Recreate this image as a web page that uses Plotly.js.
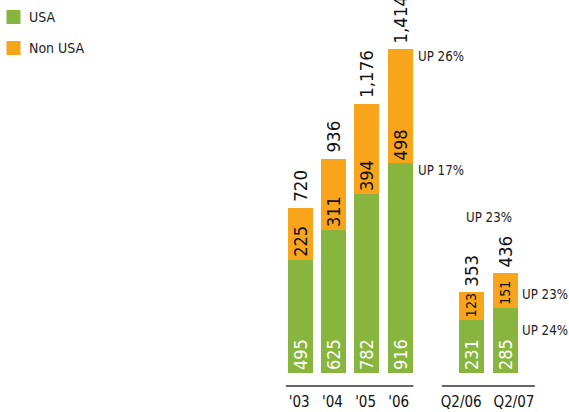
<!DOCTYPE html>
<html>
<head>
<meta charset="utf-8">
<script src="https://cdn.plot.ly/plotly-3.0.1.min.js"></script>
<style>html,body{margin:0;padding:0;background:#fff}#chart{width:569px;height:412px}</style>
</head>
<body>
<div id="chart"></div>
<script>
// ---- data ----
var annualLabels = ["'03", "'04", "'05", "'06"];
var quarterLabels = ["Q2/06", "Q2/07"];
var usaAnnual = [495, 625, 782, 916];
var nonUsaAnnual = [225, 311, 394, 498];
var totalAnnual = [720, 936, 1176, 1414];
var usaQuarter = [231, 285];
var nonUsaQuarter = [123, 151];
var totalQuarter = [353, 436];
var seriesNames = ["USA", "Non USA"];
var growthLabels = ["UP 26%", "UP 17%", "UP 23%", "UP 23%", "UP 24%"];

// ---- layout helpers ----
var FONT = "'DejaVu Sans Condensed', 'Liberation Sans Narrow', sans-serif";
var GREEN = "#88b53e", ORANGE = "#f8a51c";
var W = 569, H = 412, PLOT_H = 372.7;
var QOFF = 5.15;
var labels = annualLabels.concat(quarterLabels);
var xs = annualLabels.map(function(_, i){ return i; })
  .concat(quarterLabels.map(function(_, i){ return QOFF + i * 1.02; }));
// quarterly tick labels sit slightly outward of their bars
var tickPos = xs.map(function(x, i){
  if (i === annualLabels.length) return x - 0.31;
  if (i === annualLabels.length + 1) return x + 0.26;
  return x - 0.04;
});
var usa = usaAnnual.concat(usaQuarter);
var non = nonUsaAnnual.concat(nonUsaQuarter);
var totals = totalAnnual.concat(totalQuarter);
function fmt(n){ return n.toString().replace(/\B(?=(\d{3})+(?!\d))/g, ","); }
var innerSizes = xs.map(function(_, i){ return i < annualLabels.length ? 18 : 14; });
var BW = 0.75;

var common = {
  type: 'bar', x: xs, width: BW, textposition: 'inside', insidetextanchor: 'start',
  textangle: -90, constraintext: 'none', hoverinfo: 'skip', showlegend: false
};
var tUsa = Object.assign({}, common, {
  name: seriesNames[0], y: usa, text: usa.map(fmt),
  marker: {color: GREEN, line: {width: 0}},
  insidetextfont: {family: FONT, color: '#ffffff', size: 18}
});
var tNon = Object.assign({}, common, {
  name: seriesNames[1], y: non, text: non.map(fmt),
  marker: {color: ORANGE, line: {width: 0}},
  insidetextfont: {family: FONT, color: '#111111', size: innerSizes}
});

var annotations = totals.map(function(t, i){
  return {x: xs[i], y: t, xref: 'x', yref: 'y', text: fmt(t), textangle: -90,
    showarrow: false, xanchor: 'center', yanchor: 'bottom', yshift: 4,
    font: {family: FONT, size: 18.5, color: '#111'}};
});
var upPos = [
  {x: 3.49, y: 1385, xa: 'left'},
  {x: 3.49, y: 886, xa: 'left'},
  {x: 5.68, y: 681, xa: 'center'},
  {x: 6.62, y: 344, xa: 'left'},
  {x: 6.62, y: 187, xa: 'left'}
];
growthLabels.forEach(function(g, i){
  annotations.push({x: upPos[i].x, y: upPos[i].y, xref: 'x', yref: 'y', text: g,
    showarrow: false, xanchor: upPos[i].xa, yanchor: 'middle',
    font: {family: FONT, size: 13.2, color: '#222'}});
});

// manual legend (pixel positions converted to paper coords)
function px(x){ return x / W; }
function py(y){ return 1 - y / PLOT_H; }
var legendRows = [{y: 17, c: GREEN}, {y: 48, c: ORANGE}];
var shapes = [];
legendRows.forEach(function(r, i){
  shapes.push({type: 'rect', xref: 'paper', yref: 'paper', x0: px(6.5), x1: px(20.5),
    y0: py(r.y - 7), y1: py(r.y + 7), fillcolor: r.c, line: {width: 0}});
  annotations.push({xref: 'paper', yref: 'paper', x: px(26.5), y: py(r.y), text: seriesNames[i],
    showarrow: false, xanchor: 'left', yanchor: 'middle',
    font: {family: FONT, size: 14, color: '#222'}});
});

shapes.push(
  {type: 'line', xref: 'x', yref: 'paper', x0: -0.44, x1: 3.4, y0: py(385.7), y1: py(385.7),
   line: {color: '#333', width: 1.3}},
  {type: 'line', xref: 'x', yref: 'paper', x0: QOFF - 0.89, x1: QOFF + 1.02 + 0.89, y0: py(385.7), y1: py(385.7),
   line: {color: '#333', width: 1.3}}
);

var layout = {
  width: W, height: H,
  margin: {l: 0, r: 0, t: 0, b: H - PLOT_H},
  paper_bgcolor: '#fff', plot_bgcolor: '#fff',
  barmode: 'stack', showlegend: false,
  xaxis: {range: [-300.5/33.2, (W-300.5)/33.2], tickmode: 'array', tickvals: tickPos, ticktext: labels,
    tickangle: 0, showgrid: false, zeroline: false, showline: false, ticks: '', ticklabelstandoff: 18,
    tickfont: {family: FONT, size: 15, color: '#111'}, fixedrange: true},
  yaxis: {range: [0, 1630], visible: false, showgrid: false, zeroline: false, fixedrange: true},
  annotations: annotations,
  shapes: shapes,
  font: {family: FONT}
};

Plotly.newPlot('chart', [tUsa, tNon], layout, {displayModeBar: false, staticPlot: true});
</script>
</body>
</html>
